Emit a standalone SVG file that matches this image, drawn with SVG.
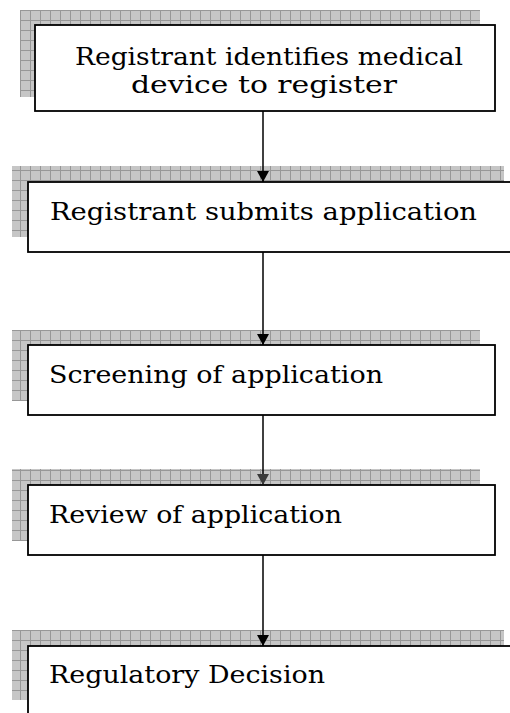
<svg xmlns="http://www.w3.org/2000/svg" width="510" height="713" viewBox="0 0 510 713">
<style>
.box{fill:#ffffff;stroke:#000000;stroke-width:1.8}
.shadow{fill:url(#grid)}
.label{font-family:"DejaVu Serif","Liberation Serif",serif;font-size:24px;fill:#000000}
.conn{stroke:#000000;stroke-width:1.5;fill:none}
</style>
<defs>
<pattern id="grid" patternUnits="userSpaceOnUse" x="0" y="0" width="10" height="10">
<rect width="10" height="10" fill="#c6c6c6"/>
<path d="M0 0.5H10M0.5 0V10" stroke="#979797" stroke-width="1"/>
</pattern>
<marker id="arrow" markerUnits="userSpaceOnUse" markerWidth="14" markerHeight="14" refX="11" refY="7" orient="auto">
<path d="M0 1 L11 7 L0 13 Z" fill="#000000"/>
</marker>
<marker id="arrowGray" markerUnits="userSpaceOnUse" markerWidth="14" markerHeight="14" refX="11" refY="7" orient="auto">
<path d="M0 1 L11 7 L0 13 Z" fill="#3a3a3a"/>
</marker>
</defs>
<rect width="510" height="713" fill="#ffffff"/>
<g id="node1">
<rect class="shadow" x="20" y="10" width="460" height="87"/>
<rect class="box" x="35" y="25" width="460" height="86"/>
<text class="label" x="75" y="65" textLength="388" lengthAdjust="spacingAndGlyphs">Registrant identifies medical</text>
<text class="label" x="131" y="93" textLength="266" lengthAdjust="spacingAndGlyphs">device to register</text>
</g>
<g id="node2">
<rect class="shadow" x="12" y="166" width="492" height="71"/>
<rect class="box" x="28" y="182" width="500" height="70"/>
<text class="label" x="50" y="220" textLength="427" lengthAdjust="spacingAndGlyphs">Registrant submits application</text>
</g>
<g id="node3">
<rect class="shadow" x="12" y="330" width="468" height="71"/>
<rect class="box" x="28" y="345" width="467" height="70"/>
<text class="label" x="49" y="383" textLength="334" lengthAdjust="spacingAndGlyphs">Screening of application</text>
</g>
<g id="node4">
<rect class="shadow" x="12" y="469" width="468" height="72"/>
<rect class="box" x="28" y="485" width="467" height="70"/>
<text class="label" x="49" y="523" textLength="293" lengthAdjust="spacingAndGlyphs">Review of application</text>
</g>
<g id="node5">
<rect class="shadow" x="12" y="630" width="492" height="70"/>
<rect class="box" x="28" y="646" width="500" height="80"/>
<text class="label" x="49" y="683" textLength="276" lengthAdjust="spacingAndGlyphs">Regulatory Decision</text>
</g>
<g id="connectors">
<line class="conn" x1="263" y1="111" x2="263" y2="182" marker-end="url(#arrow)"/>
<line class="conn" x1="263" y1="252" x2="263" y2="345" marker-end="url(#arrow)"/>
<line class="conn" x1="263" y1="415" x2="263" y2="485" marker-end="url(#arrowGray)"/>
<line class="conn" x1="263" y1="555" x2="263" y2="646" marker-end="url(#arrow)"/>
</g>
</svg>
